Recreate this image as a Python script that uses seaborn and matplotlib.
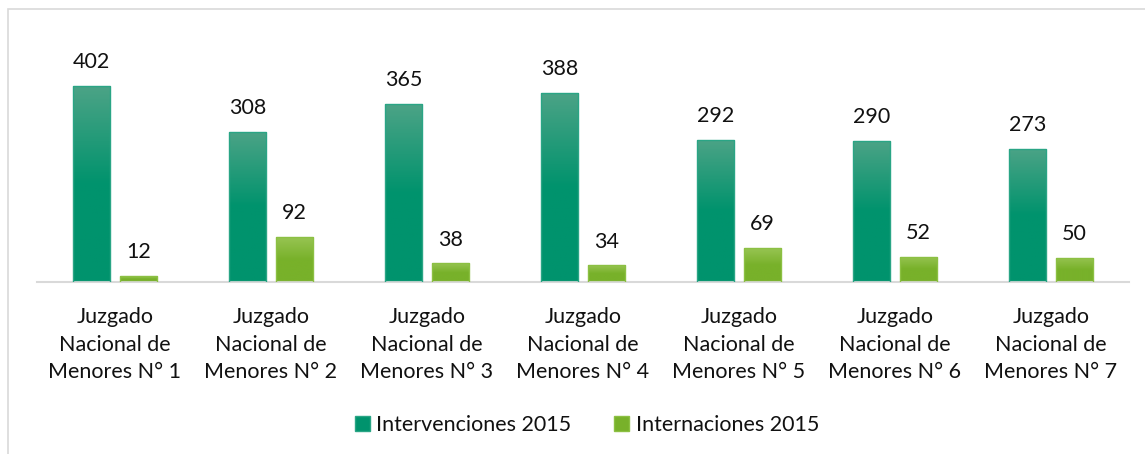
import matplotlib
matplotlib.use("Agg")
import matplotlib.pyplot as plt
import matplotlib.colors as mcolors
from matplotlib.patches import Rectangle
import seaborn as sns
import pandas as pd
import numpy as np

# datos
juzgados = ["Juzgado\nNacional de\nMenores N° %d" % i for i in range(1, 8)]
intervenciones = [402, 308, 365, 388, 292, 290, 273]
internaciones = [12, 92, 38, 34, 69, 52, 50]
series = ["Intervenciones 2015", "Internaciones 2015"]

# colores (arriba, abajo) del degradado
col_top = ["#4ba386", "#97c452"]
col_bot = ["#00936d", "#78b12a"]
col_edge = ["#2aa585", "#8cc043"]

sns.set_theme(style="white")
plt.rcParams["font.family"] = ["Lato", "DejaVu Sans"]

df = pd.DataFrame({
    "juzgado": juzgados * 2,
    "serie": [series[0]] * 7 + [series[1]] * 7,
    "valor": intervenciones + internaciones,
})

fig = plt.figure(figsize=(11.45, 4.54), dpi=100)
ax = fig.add_axes([37 / 1145, 172 / 454, 1092 / 1145, 219.4 / 454])

sns.barplot(data=df, x="juzgado", y="valor", hue="serie", hue_order=series,
            palette=col_bot, width=0.603, gap=0.21, ax=ax, legend=False)

# degradado en cada barra
for k, cont in enumerate(ax.containers):
    cmap = mcolors.LinearSegmentedColormap.from_list("g%d" % k, [col_bot[k], col_bot[k], col_top[k]])
    grad = np.linspace(0, 1, 100).reshape(-1, 1)
    for p in cont:
        x0, y0 = p.get_x(), p.get_y()
        w, h = p.get_width(), p.get_height()
        im = ax.imshow(grad, cmap=cmap, origin="lower", aspect="auto",
                       extent=(x0, x0 + w, y0, y0 + h), zorder=2)
        im.set_clip_path(p)
        p.set_edgecolor(col_edge[k])
        p.set_linewidth(1.0)
        p.set_zorder(3)
        p.set_facecolor("none")
    ax.bar_label(cont, padding=10, fontsize=15.5, color="#111111")

ax.set_xlim(-0.5, 6.5)
ax.set_ylim(0, 450)
ax.set_xlabel("")
ax.set_ylabel("")
ax.set_yticks([])
ax.tick_params(axis="x", length=0, pad=18, labelsize=15.5, labelcolor="#111111")
for t in ax.get_xticklabels():
    t.set_linespacing(1.48)
for s in ["top", "right", "left"]:
    ax.spines[s].set_visible(False)
ax.spines["bottom"].set_color("#d9d9d9")
ax.spines["bottom"].set_linewidth(1.5)

# leyenda
handles = [Rectangle((0, 0), 1, 1, facecolor=col_bot[i], edgecolor=col_edge[i]) for i in range(2)]
fig.legend(handles, series, loc="center", bbox_to_anchor=(587 / 1145, 1 - 425 / 454),
           ncol=2, frameon=False, fontsize=15.5, handlelength=0.7, handleheight=0.7,
           handletextpad=0.3, columnspacing=2.0, labelcolor="#111111")

# marco del gráfico
fig.patches.append(Rectangle((8 / 1145, -0.1), 1.2, 1 - 9 / 454 + 0.1, transform=fig.transFigure,
                             fill=False, edgecolor="#d9d9d9", linewidth=1.2))

fig.savefig("out.png", dpi=100)
